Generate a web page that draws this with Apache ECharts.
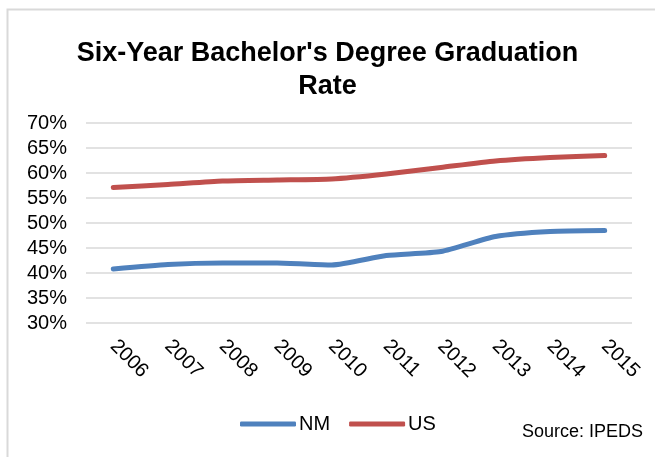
<!DOCTYPE html>
<html><head><meta charset="utf-8">
<script src="https://cdn.jsdelivr.net/npm/echarts@6/dist/echarts.min.js"></script>
<style>html,body{margin:0;padding:0;background:#fff}#c{width:655px;height:457px}</style>
</head><body><div id="c"></div>
<script>
const years = ['2006','2007','2008','2009','2010','2011','2012','2013','2014','2015'];
const nmValues = [40.8, 41.7, 42.0, 42.0, 41.6, 43.5, 44.3, 47.3, 48.3, 48.5];
const usValues = [57.1, 57.7, 58.4, 58.6, 58.8, 59.8, 61.1, 62.4, 63.1, 63.5];
const titleText = "Six-Year Bachelor's Degree Graduation\nRate";
const sourceText = 'Source: IPEDS';
const font = '"Liberation Sans", Arial, sans-serif';
const chart = echarts.init(document.getElementById('c'), null, {renderer: 'canvas'});
chart.setOption({
  animation: false,
  title: {text: titleText, left: 'center', top: 32,
    textStyle: {fontFamily: font, fontSize: 27, fontWeight: 'bold', color: '#000', lineHeight: 33}},
  graphic: [
    {type: 'rect', shape: {x: 7.5, y: 9.5, width: 700, height: 500}, style: {fill: 'none', stroke: '#d9d9d9', lineWidth: 2}, silent: true, z: -1},
    {type: 'text', right: 12, top: 423, style: {text: sourceText, font: '18px "Liberation Sans", Arial, sans-serif', fill: '#000'}}
  ],
  legend: {data: ['NM', 'US'], left: 240, top: 414, padding: 0, itemWidth: 56, itemHeight: 5, itemGap: 19,
    icon: 'roundRect',
    textStyle: {fontFamily: font, fontSize: 20, color: '#000', padding: [0,0,0,-2]}},
  grid: {left: 86, right: 23, top: 123, bottom: 134, containLabel: false},
  xAxis: {type: 'category', data: years, boundaryGap: true,
    axisLine: {show: false}, axisTick: {show: false},
    axisLabel: {rotate: -45, fontFamily: font, fontSize: 20, color: '#000', margin: 20, interval: 0}},
  yAxis: {type: 'value', min: 30, max: 70, interval: 5,
    axisLine: {show: false}, axisTick: {show: false},
    axisLabel: {formatter: '{value}%', fontFamily: font, fontSize: 20, color: '#000', margin: 19},
    splitLine: {lineStyle: {color: '#d9d9d9', width: 1.5}}},
  series: [
    {name: 'NM', type: 'line', data: nmValues, smooth: 0.2, symbol: 'none',
      lineStyle: {color: '#4f81bd', width: 5, cap: 'round', join: 'round'}, itemStyle: {color: '#4f81bd'}},
    {name: 'US', type: 'line', data: usValues, smooth: 0.2, symbol: 'none',
      lineStyle: {color: '#c0504d', width: 5, cap: 'round', join: 'round'}, itemStyle: {color: '#c0504d'}}
  ]
});
</script></body></html>
